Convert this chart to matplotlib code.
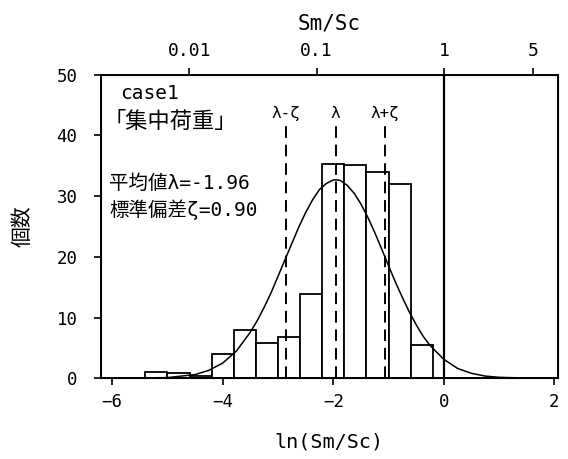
import matplotlib
matplotlib.use("Agg")
import matplotlib.pyplot as plt
import numpy as np

plt.rcParams['font.family'] = ['DejaVu Sans Mono', 'Noto Sans CJK JP']

# histogram of ln(Sm/Sc), bin width 0.4
bin_left = [-5.4, -5.0, -4.6, -4.2, -3.8, -3.4, -3.0, -2.6, -2.2, -1.8, -1.4, -1.0, -0.6]
counts = [1.1, 0.9, 0.3, 4.0, 7.9, 5.8, 6.8, 13.8, 35.3, 35.2, 34.0, 32.0, 5.4]
bin_width = 0.4

# fitted curve, points
curve_x = [-6.2, -6.0, -5.5, -5.0, -4.5, -4.25, -4.0, -3.75, -3.5, -3.375, -3.25,
           -3.125, -3.0, -2.875, -2.75, -2.625, -2.5, -2.375, -2.25, -2.125, -2.0,
           -1.96, -1.875, -1.75, -1.625, -1.5, -1.375, -1.25, -1.125, -1.0, -0.875,
           -0.75, -0.625, -0.5, -0.375, -0.25, 0.0, 0.25, 0.5, 0.75, 1.0, 1.5, 2.06]
curve_y = [0.0, 0.0, 0.05, 0.1, 0.6, 1.3, 2.5, 4.5, 7.6, 9.5, 11.7,
           14.1, 16.8, 19.5, 22.2, 24.9, 27.3, 29.4, 31.1, 32.1, 32.67,
           32.7, 32.6, 31.8, 30.5, 28.7, 26.5, 24.0, 21.3, 18.5, 15.8,
           13.3, 10.9, 8.8, 6.9, 5.4, 3.1, 1.6, 0.8, 0.35, 0.15, 0.02, 0.0]

lam = -1.96
zeta = 0.90
ref_lines = [lam - zeta, lam, lam + zeta]
ref_labels = ['λ-ζ', 'λ', 'λ+ζ']

top_ticks = [0.01, 0.1, 1, 5]
top_labels = ['0.01', '0.1', '1', '5']

fig = plt.figure(figsize=(5.68, 4.59), dpi=100)
ax = fig.add_axes([0.178, 0.176, 0.804, 0.661])

ax.bar(bin_left, counts, width=bin_width, align='edge',
       facecolor='white', edgecolor='black', linewidth=1.3, zorder=2)
ax.plot(curve_x, curve_y, color='black', linewidth=1.1, zorder=3)

for xv, lab in zip(ref_lines, ref_labels):
    ax.plot([xv, xv], [0, 42], color='black', linewidth=1.4,
            linestyle=(0, (6, 3.5)), zorder=4)
    ax.text(xv, 43.6, lab, ha='center', va='center', fontsize=11.5)

# Sm/Sc = 1
ax.axvline(0, color='black', linewidth=1.6, zorder=4)

ax.text(-5.85, 46.9, 'case1', fontsize=14, va='center', ha='left')
ax.text(-6.15, 42.4, '「集中荷重」', fontsize=16, va='center', ha='left')
ax.text(-6.05, 32.1, '平均値λ=-1.96', fontsize=14, va='center', ha='left')
ax.text(-6.05, 27.7, '標準偏差ζ=0.90', fontsize=14, va='center', ha='left')

ax.set_xlim(-6.2, 2.06)
ax.set_ylim(0, 50)
ax.set_xticks([-6, -4, -2, 0, 2])
ax.set_xticklabels(['−6', '−4', '−2', '0', '2'])
ax.set_yticks([0, 10, 20, 30, 40, 50])
ax.tick_params(axis='x', labelsize=12.5, width=1.2, length=5, pad=6)
ax.tick_params(axis='y', labelsize=12.5, width=1.2, length=5, pad=12)
ax.set_xlabel('ln(Sm/Sc)', fontsize=14.5)
ax.xaxis.set_label_coords(0.5, -0.18)
ax.set_ylabel('個数', fontsize=15)
ax.yaxis.set_label_coords(-0.15, 0.5)
for s in ax.spines.values():
    s.set_linewidth(1.4)

ax2 = ax.twiny()
ax2.set_xlim(ax.get_xlim())
ax2.set_xticks(np.log(top_ticks))
ax2.set_xticklabels(top_labels)
ax2.tick_params(labelsize=13, width=1.2, length=5, pad=6)
ax2.set_xlabel('Sm/Sc', fontsize=15)
ax2.xaxis.set_label_coords(0.5, 1.15)

fig.savefig('out.png', dpi=100)
